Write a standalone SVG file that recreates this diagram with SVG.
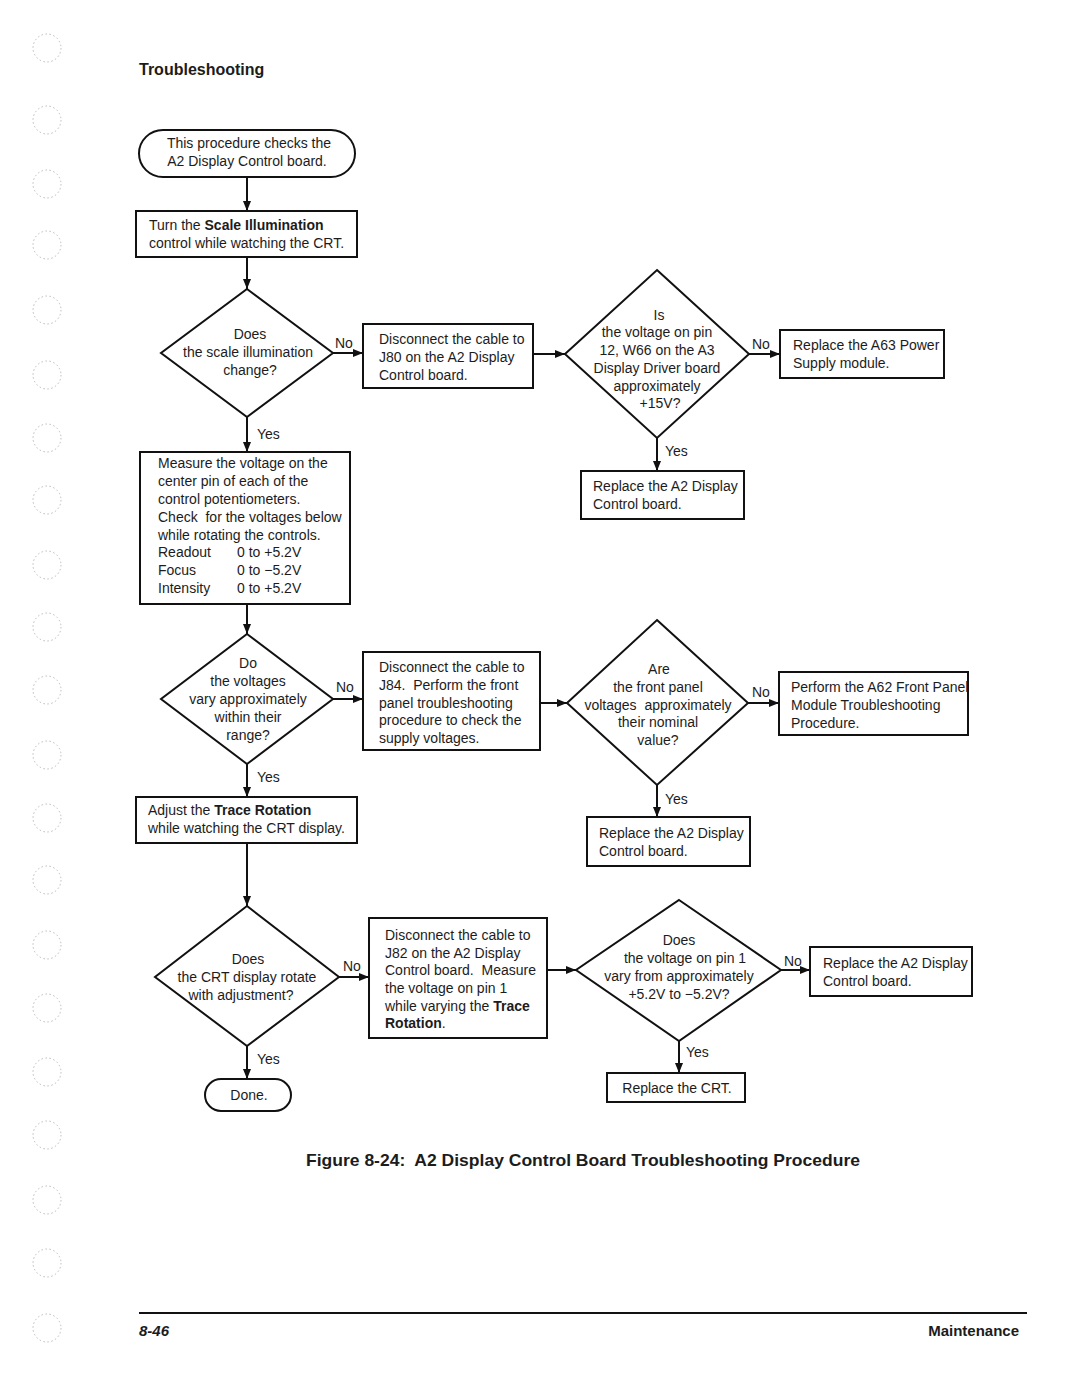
<svg xmlns="http://www.w3.org/2000/svg" width="1080" height="1397" viewBox="0 0 1080 1397">
<style>
text{font-family:"Liberation Sans",Arial,sans-serif;font-size:14px;fill:#1c1c1c;white-space:pre}
.c{text-anchor:middle}
.b{font-weight:bold}
.shape{fill:#fff;stroke:#111;stroke-width:2}
.conn{fill:none;stroke:#111;stroke-width:2}
.hole{fill:none;stroke:#bbb;stroke-width:1;stroke-dasharray:1.5 2.5}
.lbl{font-size:14px}
</style>
<defs>
<marker id="arr" viewBox="0 0 10 8" refX="10" refY="4" markerWidth="10" markerHeight="8" markerUnits="userSpaceOnUse" orient="auto">
<path d="M0,0 L10,4 L0,8 z" fill="#111"/>
</marker>
</defs>
<rect width="1080" height="1397" fill="#fff"/>
<g id="binder-holes">
<circle class="hole" cx="47" cy="48" r="14"/>
<circle class="hole" cx="47" cy="120" r="14"/>
<circle class="hole" cx="47" cy="184" r="14"/>
<circle class="hole" cx="47" cy="245" r="14"/>
<circle class="hole" cx="47" cy="310" r="14"/>
<circle class="hole" cx="47" cy="375" r="14"/>
<circle class="hole" cx="47" cy="438" r="14"/>
<circle class="hole" cx="47" cy="500" r="14"/>
<circle class="hole" cx="47" cy="565" r="14"/>
<circle class="hole" cx="47" cy="627" r="14"/>
<circle class="hole" cx="47" cy="690" r="14"/>
<circle class="hole" cx="47" cy="755" r="14"/>
<circle class="hole" cx="47" cy="818" r="14"/>
<circle class="hole" cx="47" cy="880" r="14"/>
<circle class="hole" cx="47" cy="945" r="14"/>
<circle class="hole" cx="47" cy="1008" r="14"/>
<circle class="hole" cx="47" cy="1072" r="14"/>
<circle class="hole" cx="47" cy="1135" r="14"/>
<circle class="hole" cx="47" cy="1200" r="14"/>
<circle class="hole" cx="47" cy="1263" r="14"/>
<circle class="hole" cx="47" cy="1328" r="14"/>
</g>
<text x="139" y="75" class="b" style="font-size:16px">Troubleshooting</text>

<g id="connectors">
<line class="conn" x1="247" y1="177" x2="247" y2="211" marker-end="url(#arr)"/>
<line class="conn" x1="247" y1="257" x2="247" y2="289" marker-end="url(#arr)"/>
<line class="conn" x1="333" y1="353" x2="363" y2="353" marker-end="url(#arr)"/>
<line class="conn" x1="533" y1="354" x2="565" y2="354" marker-end="url(#arr)"/>
<line class="conn" x1="749" y1="354" x2="780" y2="354" marker-end="url(#arr)"/>
<line class="conn" x1="657" y1="438" x2="657" y2="471" marker-end="url(#arr)"/>
<line class="conn" x1="247" y1="417" x2="247" y2="452" marker-end="url(#arr)"/>
<line class="conn" x1="247" y1="604" x2="247" y2="634" marker-end="url(#arr)"/>
<line class="conn" x1="333" y1="699" x2="363" y2="699" marker-end="url(#arr)"/>
<line class="conn" x1="540" y1="703" x2="567" y2="703" marker-end="url(#arr)"/>
<line class="conn" x1="748" y1="703" x2="779" y2="703" marker-end="url(#arr)"/>
<line class="conn" x1="657" y1="785" x2="657" y2="817" marker-end="url(#arr)"/>
<line class="conn" x1="247" y1="764" x2="247" y2="797" marker-end="url(#arr)"/>
<line class="conn" x1="247" y1="843" x2="247" y2="906" marker-end="url(#arr)"/>
<line class="conn" x1="339" y1="977" x2="369" y2="977" marker-end="url(#arr)"/>
<line class="conn" x1="547" y1="970" x2="576" y2="970" marker-end="url(#arr)"/>
<line class="conn" x1="781" y1="970" x2="810" y2="970" marker-end="url(#arr)"/>
<line class="conn" x1="679" y1="1041" x2="679" y2="1073" marker-end="url(#arr)"/>
<line class="conn" x1="247" y1="1046" x2="247" y2="1079" marker-end="url(#arr)"/>
<text x="335" y="348" class="lbl">No</text>
<text x="752" y="349" class="lbl">No</text>
<text x="665" y="456" class="lbl">Yes</text>
<text x="257" y="439" class="lbl">Yes</text>
<text x="336" y="692" class="lbl">No</text>
<text x="752" y="697" class="lbl">No</text>
<text x="665" y="804" class="lbl">Yes</text>
<text x="257" y="782" class="lbl">Yes</text>
<text x="343" y="971" class="lbl">No</text>
<text x="784" y="966" class="lbl">No</text>
<text x="686" y="1057" class="lbl">Yes</text>
<text x="257" y="1064" class="lbl">Yes</text>
</g>

<g id="start">
<rect class="shape" x="139" y="130" width="216" height="47" rx="24" ry="23.5"/>
<text x="249" y="148" class="c">This procedure checks the</text>
<text x="247" y="166" class="c">A2 Display Control board.</text>
</g>

<g id="turn-scale">
<rect class="shape" x="136" y="211" width="221" height="46"/>
<text x="149" y="230">Turn the <tspan class="b">Scale Illumination</tspan></text>
<text x="149" y="248">control while watching the CRT.</text>
</g>

<g id="d-scale">
<polygon class="shape" points="247,289 333,353 247,417 161,353"/>
<text x="250" y="339" class="c">Does</text>
<text x="248" y="357" class="c">the scale illumination</text>
<text x="250" y="375" class="c">change?</text>
</g>

<g id="disc-j80">
<rect class="shape" x="363" y="324" width="170" height="64"/>
<text x="379" y="344">Disconnect the cable to</text>
<text x="379" y="362">J80 on the A2 Display</text>
<text x="379" y="380">Control board.</text>
</g>

<g id="d-15v">
<polygon class="shape" points="657,270 749,354 657,438 565,354"/>
<text x="659" y="320" class="c">Is</text>
<text x="657" y="337" class="c">the voltage on pin</text>
<text x="657" y="355" class="c">12, W66 on the A3</text>
<text x="657" y="373" class="c">Display Driver board</text>
<text x="657" y="391" class="c">approximately</text>
<text x="660" y="408" class="c">+15V?</text>
</g>

<g id="replace-a63">
<rect class="shape" x="780" y="330" width="164" height="48"/>
<text x="793" y="350">Replace the A63 Power</text>
<text x="793" y="368">Supply module.</text>
</g>

<g id="replace-a2-1">
<rect class="shape" x="581" y="471" width="163" height="48"/>
<text x="593" y="491">Replace the A2 Display</text>
<text x="593" y="509">Control board.</text>
</g>

<g id="measure">
<rect class="shape" x="140" y="452" width="210" height="152"/>
<text x="158" y="468">Measure the voltage on the</text>
<text x="158" y="486">center pin of each of the</text>
<text x="158" y="504">control potentiometers.</text>
<text x="158" y="522">Check  for the voltages below</text>
<text x="158" y="540">while rotating the controls.</text>
<text x="158" y="557">Readout</text><text x="237" y="557">0 to +5.2V</text>
<text x="158" y="575">Focus</text><text x="237" y="575">0 to −5.2V</text>
<text x="158" y="593">Intensity</text><text x="237" y="593">0 to +5.2V</text>
</g>

<g id="d-vary">
<polygon class="shape" points="247,634 333,699 247,764 161,699"/>
<text x="248" y="668" class="c">Do</text>
<text x="248" y="686" class="c">the voltages</text>
<text x="248" y="704" class="c">vary approximately</text>
<text x="248" y="722" class="c">within their</text>
<text x="248" y="740" class="c">range?</text>
</g>

<g id="disc-j84">
<rect class="shape" x="363" y="652" width="177" height="98"/>
<text x="379" y="672">Disconnect the cable to</text>
<text x="379" y="690">J84.  Perform the front</text>
<text x="379" y="708">panel troubleshooting</text>
<text x="379" y="725">procedure to check the</text>
<text x="379" y="743">supply voltages.</text>
</g>

<g id="d-front">
<polygon class="shape" points="657,620 748,703 657,785 567,703"/>
<text x="659" y="674" class="c">Are</text>
<text x="658" y="692" class="c">the front panel</text>
<text x="658" y="710" class="c">voltages  approximately</text>
<text x="658" y="727" class="c">their nominal</text>
<text x="658" y="745" class="c">value?</text>
</g>

<g id="perform-a62">
<rect class="shape" x="779" y="672" width="189" height="63"/>
<text x="791" y="692">Perform the A62 Front Panel</text>
<text x="791" y="710">Module Troubleshooting</text>
<text x="791" y="728">Procedure.</text>
</g>

<g id="replace-a2-2">
<rect class="shape" x="587" y="817" width="163" height="49"/>
<text x="599" y="838">Replace the A2 Display</text>
<text x="599" y="856">Control board.</text>
</g>

<g id="adjust">
<rect class="shape" x="136" y="797" width="221" height="46"/>
<text x="148" y="815">Adjust the <tspan class="b">Trace Rotation</tspan></text>
<text x="148" y="833">while watching the CRT display.</text>
</g>

<g id="d-rotate">
<polygon class="shape" points="247,906 339,977 247,1046 155,977"/>
<text x="248" y="964" class="c">Does</text>
<text x="247" y="982" class="c">the CRT display rotate</text>
<text x="241" y="1000" class="c">with adjustment?</text>
</g>

<g id="disc-j82">
<rect class="shape" x="369" y="918" width="178" height="120"/>
<text x="385" y="940">Disconnect the cable to</text>
<text x="385" y="958">J82 on the A2 Display</text>
<text x="385" y="975">Control board.  Measure</text>
<text x="385" y="993">the voltage on pin 1</text>
<text x="385" y="1011">while varying the <tspan class="b">Trace</tspan></text>
<text x="385" y="1028" class="b">Rotation<tspan style="font-weight:normal">.</tspan></text>
</g>

<g id="d-pin1">
<polygon class="shape" points="679,900 781,970 679,1041 576,970"/>
<text x="679" y="945" class="c">Does</text>
<text x="685" y="963" class="c">the voltage on pin 1</text>
<text x="679" y="981" class="c">vary from approximately</text>
<text x="679" y="999" class="c">+5.2V to −5.2V?</text>
</g>

<g id="replace-a2-3">
<rect class="shape" x="810" y="947" width="162" height="49"/>
<text x="823" y="968">Replace the A2 Display</text>
<text x="823" y="986">Control board.</text>
</g>

<g id="replace-crt">
<rect class="shape" x="607" y="1073" width="138" height="29"/>
<text x="677" y="1093" class="c">Replace the CRT.</text>
</g>

<g id="done">
<rect class="shape" x="205" y="1079" width="86" height="32" rx="16" ry="16"/>
<text x="249" y="1100" class="c">Done.</text>
</g>

<text x="583" y="1166" class="c b" style="font-size:16.5px" textLength="554" lengthAdjust="spacingAndGlyphs">Figure 8-24:  A2 Display Control Board Troubleshooting Procedure</text>
<line x1="139" y1="1313" x2="1027" y2="1313" stroke="#111" stroke-width="2"/>
<text x="139" y="1336" class="b" style="font-size:15px;font-style:italic">8-46</text>
<text x="1019" y="1336" class="b" style="font-size:15px;text-anchor:end">Maintenance</text>
</svg>
